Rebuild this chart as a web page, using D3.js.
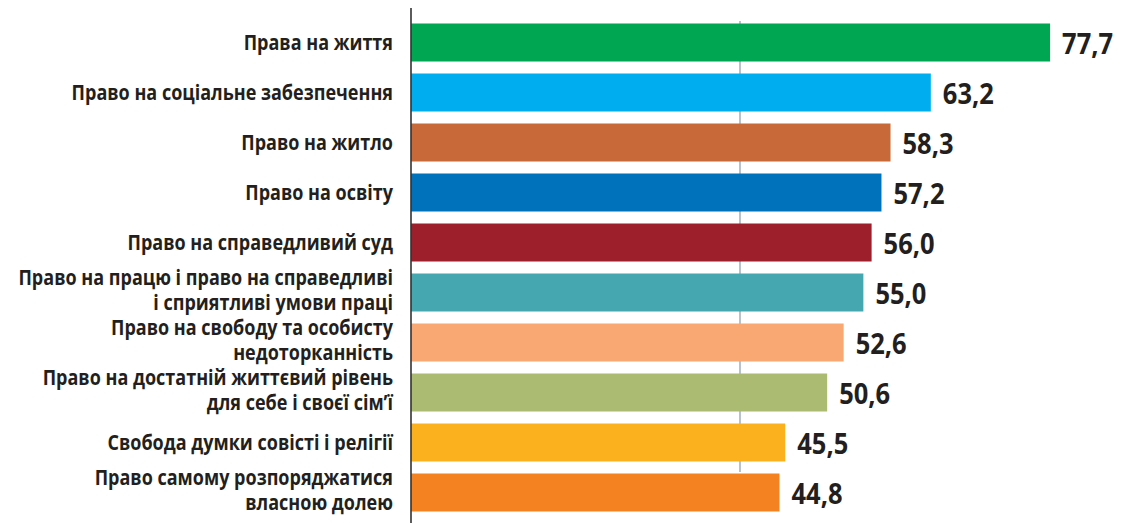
<!DOCTYPE html>
<html><head><meta charset="utf-8">
<script src="https://cdn.jsdelivr.net/npm/d3@7/dist/d3.min.js"></script>
<style>
html,body{margin:0;padding:0;background:#fff;}
svg text{font-family:"Open Sans","Noto Sans",sans-serif;font-weight:bold;fill:#231f20;}
</style></head>
<body><svg id="c" width="1130" height="523"></svg>
<script>
const categories = [
  ["Права на життя"],
  ["Право на соціальне забезпечення"],
  ["Право на житло"],
  ["Право на освіту"],
  ["Право на справедливий суд"],
  ["Право на працю і право на справедливі","і сприятливі умови праці"],
  ["Право на свободу та особисту","недоторканність"],
  ["Право на достатній життєвий рівень","для себе і своєї сім’ї"],
  ["Свобода думки совісті і релігії"],
  ["Право самому розпоряджатися","власною долею"]
];
const values = [77.7, 63.2, 58.3, 57.2, 56.0, 55.0, 52.6, 50.6, 45.5, 44.8];
const valueLabels = ["77,7","63,2","58,3","57,2","56,0","55,0","52,6","50,6","45,5","44,8"];
const colors = ["#00a651","#00aeef","#c8693a","#0072bc","#9e1f2c","#45a7b0","#f9a874","#acbb72","#fbb11d","#f58220"];
const gridTicks = [40];

const svg = d3.select("#c");
const x = d3.scaleLinear().domain([0, 80]).range([411, 411 + 80*8.225]);
const y = d3.scaleBand().domain(d3.range(categories.length)).range([17.5, 517.5]).paddingInner(0.24).paddingOuter(0.12);

svg.selectAll("line.grid").data(gridTicks).enter().append("line")
  .attr("x1", d=>x(d)).attr("x2", d=>x(d)).attr("y1", 21).attr("y2", 472)
  .attr("stroke", "#8a9aa8").attr("stroke-width", 1.2);

svg.selectAll("rect.bar").data(values).enter().append("rect")
  .attr("x", x(0)).attr("y", (d,i)=>y(i)).attr("width", d=>x(d)-x(0)).attr("height", y.bandwidth())
  .attr("fill", (d,i)=>colors[i]);

svg.append("line").attr("x1", 411).attr("x2", 411).attr("y1", 8).attr("y2", 523)
  .attr("stroke", "#333").attr("stroke-width", 1.6);

// condensed look: measure a reference string and compress horizontally
function measure(str, size){
  const t = svg.append("text").attr("font-size", size).text(str);
  const w = t.node().getComputedTextLength(); t.remove(); return w;
}
const labSize = 21, valSize = 29;
const sxLab = 375 / measure("Право на працю і право на справедливі", labSize);
const sxVal = 51 / measure("77,7", valSize);

svg.selectAll("text.val").data(values).enter().append("text")
  .attr("transform", (d,i)=>`translate(${x(d)+12},${y(i)+y.bandwidth()/2+11}) scale(${sxVal},1)`)
  .attr("font-size", valSize).text((d,i)=>valueLabels[i]);

categories.forEach((lines,i)=>{
  const cy = y(i)+y.bandwidth()/2;
  const n = lines.length;
  lines.forEach((t,j)=>{
    const yy = cy + 7 + (j-(n-1)/2)*24.5 - (n>1?2:0);
    svg.append("text").attr("text-anchor","end")
      .attr("transform", `translate(393,${yy}) scale(${sxLab},1)`)
      .attr("font-size", labSize).text(t);
  });
});
</script></body></html>
